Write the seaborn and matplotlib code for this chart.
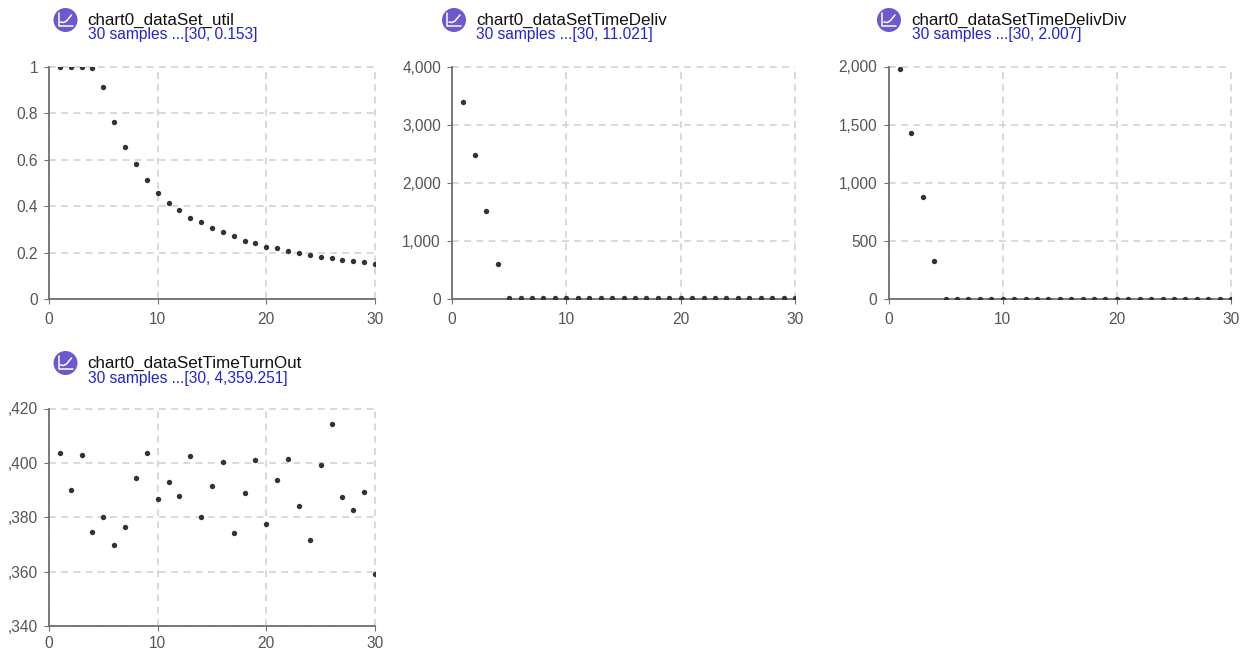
import numpy as np
import pandas as pd
import seaborn as sns
from matplotlib import pyplot as plt
from matplotlib.patches import Circle

samples = list(range(1, 31))

util = [1.0, 1.0, 1.0, 0.997, 0.913, 0.762, 0.657, 0.58, 0.512, 0.455,
        0.415, 0.385, 0.35, 0.33, 0.305, 0.29, 0.27, 0.25, 0.24, 0.225,
        0.218, 0.208, 0.2, 0.19, 0.183, 0.175, 0.17, 0.163, 0.158, 0.153]
time_deliv = [3400, 2480, 1510, 610, 11, 11, 11, 11, 11, 11,
              11, 11, 11, 11, 11, 11, 11, 11, 11, 11,
              11, 11, 11, 11, 11, 11, 11, 11, 11, 11.021]
time_deliv_div = [1975, 1425, 875, 325, 2, 2, 2, 2, 2, 2,
                  2, 2, 2, 2, 2, 2, 2, 2, 2, 2,
                  2, 2, 2, 2, 2, 2, 2, 2, 2, 2.007]
time_turnout = [4403.6, 4389.9, 4402.9, 4374.6, 4380.0, 4369.8, 4376.4, 4394.5, 4403.8, 4386.6,
                4392.9, 4387.7, 4402.6, 4380.2, 4391.5, 4400.2, 4374.2, 4388.9, 4401.1, 4377.6,
                4393.7, 4401.5, 4384.0, 4371.7, 4399.1, 4414.2, 4387.6, 4382.7, 4389.3, 4359.251]

titles = ['chart0_dataSet_util', 'chart0_dataSetTimeDeliv', 'chart0_dataSetTimeDelivDiv', 'chart0_dataSetTimeTurnOut']
subtitles = ['30 samples ...[30, 0.153]', '30 samples ...[30, 11.021]', '30 samples ...[30, 2.007]', '30 samples ...[30, 4,359.251]']
x_ticks = [0, 10, 20, 30]
util_ticks = [0, 0.2, 0.4, 0.6, 0.8, 1]
util_labels = ['0', '0.2', '0.4', '0.6', '0.8', '1']
deliv_ticks = [0, 1000, 2000, 3000, 4000]
deliv_labels = ['0', '1,000', '2,000', '3,000', '4,000']
div_ticks = [0, 500, 1000, 1500, 2000]
div_labels = ['0', '500', '1,000', '1,500', '2,000']
turnout_ticks = [4340, 4360, 4380, 4400, 4420]
# leading digit is cut off in the source chart
turnout_labels = [',340', ',360', ',380', ',400', ',420']

W, H = 1241, 649
AXIS_COLOR = '#6e7079'
GRID_COLOR = '#d0d0d0'
TEXT_COLOR = '#555555'

sns.set_theme(style='white')
plt.rcParams['font.family'] = ['Liberation Sans', 'DejaVu Sans']


def draw_panel(fig, box, values, yticks, ylabels, xpad=5.5):
    left, top, right, bottom = box
    ax = fig.add_axes([left / W, 1 - bottom / H, (right - left) / W, (bottom - top) / H])
    df = pd.DataFrame({'sample': samples, 'value': values})
    sns.scatterplot(data=df, x='sample', y='value', ax=ax, s=15, color='#333333',
                    linewidth=0, zorder=5)
    ax.set_xlim(x_ticks[0], x_ticks[-1])
    ax.set_ylim(yticks[0], yticks[-1])
    ax.set_xticks(x_ticks)
    ax.set_yticks(yticks)
    ax.set_yticklabels(ylabels)
    ax.set_xlabel('')
    ax.set_ylabel('')
    ax.grid(True, color=GRID_COLOR, linestyle=(0, (4.5, 3.5)), linewidth=1.1)
    ax.set_axisbelow(True)
    for line in ax.get_xgridlines() + ax.get_ygridlines():
        line.set_clip_on(False)
    for side in ['top', 'right']:
        ax.spines[side].set_visible(False)
    for side in ['left', 'bottom']:
        ax.spines[side].set_color(AXIS_COLOR)
        ax.spines[side].set_linewidth(1.3)
        ax.spines[side].set_zorder(4)
    ax.tick_params(axis='both', length=3.5, width=0.8, color=AXIS_COLOR, labelcolor=TEXT_COLOR,
                   labelsize=11.2, left=True, bottom=True)
    ax.tick_params(axis='x', pad=xpad)
    ax.tick_params(axis='y', pad=4.5)
    return ax


def draw_header(overlay, x, y, title, subtitle):
    # purple badge with a small chart glyph, then the two text rows
    overlay.add_patch(Circle((x, y), 12, facecolor='#6a5acd', edgecolor='none'))
    overlay.plot([x - 7, x - 7, x + 7], [y - 7, y + 6, y + 6], color='white', lw=1.1)
    overlay.plot([x - 5, x - 2, x + 1, x + 6], [y + 2, y + 2.5, y + 1, y - 5], color='white', lw=1.1)
    overlay.text(x + 22, y, title, fontsize=12.25, color='#111111', va='center', ha='left')
    overlay.text(x + 22.5, y + 15, subtitle, fontsize=11.2, color='#2222dd', va='center', ha='left')


fig = plt.figure(figsize=(W / 100, H / 100), dpi=100)

draw_panel(fig, (49, 67, 375, 299), util, util_ticks, util_labels)
draw_panel(fig, (452, 67, 795, 299), time_deliv, deliv_ticks, deliv_labels)
draw_panel(fig, (888.5, 66.5, 1231, 299), time_deliv_div, div_ticks, div_labels)
# bottom row sits against the canvas edge, so its x labels need to stay a bit closer
draw_panel(fig, (49, 408.5, 375, 626), time_turnout, turnout_ticks, turnout_labels, xpad=3.8)

overlay = fig.add_axes([0, 0, 1, 1], facecolor='none')
overlay.set_xlim(0, W)
overlay.set_ylim(H, 0)
overlay.axis('off')
draw_header(overlay, 65.5, 20, titles[0], subtitles[0])
draw_header(overlay, 454, 20, titles[1], subtitles[1])
draw_header(overlay, 889, 20, titles[2], subtitles[2])
draw_header(overlay, 65.5, 363, titles[3], subtitles[3])

plt.savefig('out.png', dpi=100)
plt.close(fig)
